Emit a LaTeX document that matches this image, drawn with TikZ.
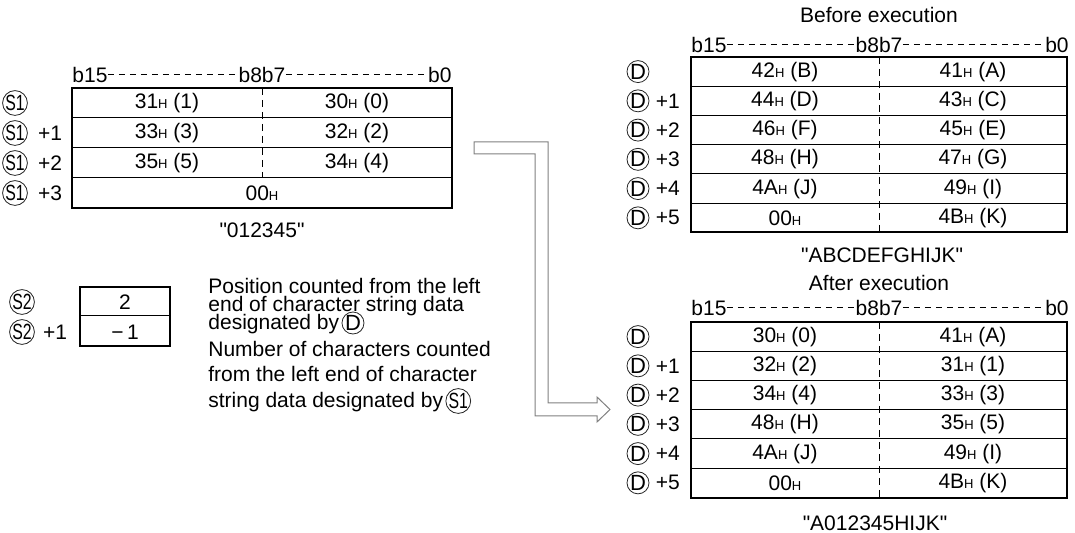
\documentclass[tikz,border=0pt]{standalone}
\usepackage{fontspec}
\setmainfont{Liberation Sans}[Ligatures=TeXOff]
\usetikzlibrary{positioning, calc}

\newcommand{\hexH}[1]{#1{\fontsize{6.5}{7}\selectfont H}}
\newcommand{\sone}{\scalebox{0.72}[1]{S1}}
\newcommand{\stwo}{\scalebox{0.72}[1]{S2}}

\begin{document}
\begin{tikzpicture}[x=0.5pt, y=-0.5pt,
  txt/.style={inner sep=0pt, font=\fontsize{10.5}{12}\selectfont},
  circ/.style={circle, draw=black!85, line width=0.4pt, inner sep=0pt, minimum size=11pt, font=\fontsize{11}{11}\selectfont},
  frame/.style={line width=1pt},
  rowline/.style={line width=0.5pt},
  middash/.style={line width=0.5pt, dash pattern=on 3.5pt off 2.5pt},
  bitdash/.style={line width=0.5pt, dash pattern=on 3pt off 2.5pt},
  hollow/.style={draw=black!50, line width=0.5pt}
]
  \useasboundingbox (0,0) rectangle (1075,533);

  % source string S1
  \node[txt, anchor=west] (lb15) at (72,75) {b15};
  \node[txt] (lb8) at (262,75) {b8b7};
  \node[txt, anchor=east] (lb0) at (452,75) {b0};
  \draw[bitdash] (lb15) -- (lb8);
  \draw[bitdash] (lb8) -- (lb0);
  \draw[frame] (72,88) rectangle (452,208);
  \foreach \y in {118,148,178} \draw[rowline] (72,\y) -- (452,\y);
  \draw[middash] (262,88) -- (262,178);
  \foreach \a/\b/\c/\d [count=\i from 0] in {31/1/30/0, 33/3/32/2, 35/5/34/4} {
    \node[txt] (sl\i) at (167,103+30*\i) {\hexH{\a} (\b)};
    \node[txt] (sr\i) at (357,103+30*\i) {\hexH{\c} (\d)};
  }
  \node[txt] (sl3) at (262,193) {\hexH{00}};
  \node[txt] (sstr) at (262,230) {"012345"};
  \node[circ] (s1l0) at (15,103) {\sone};
  \foreach \i in {1,2,3} {
    \node[circ] (s1l\i) at (15,103+30*\i) {\sone};
    \node[txt, right=5pt of s1l\i] (s1p\i) {+\i};
  }

  % S2
  \draw[frame] (80,287) rectangle (170,346);
  \draw[rowline] (80,316) -- (170,316);
  \node[txt] (n2) at (125,302) {2};
  \node[txt] (n1) at (125,332) {−\,1};
  \node[circ] (s2l0) at (22,302) {\stwo};
  \node[circ] (s2l1) at (22,332) {\stwo};
  \node[txt, right=4pt of s2l1] (s2p1) {+1};

  \node[txt, anchor=base west] (pos1) at (208,294) {Position counted from the left};
  \node[txt, anchor=base west] (pos2) at (208,312) {end of character string data};
  \node[txt, anchor=base west] (pos3) at (208,330) {designated by};
  \node[circ, anchor=west] (posd) at ($(pos3.base east)+(2,-7)$) {D};
  \node[txt, anchor=base west] (num1) at (208,357) {Number of characters counted};
  \node[txt, anchor=base west] (num2) at (208,382) {from the left end of character};
  \node[txt, anchor=base west] (num3) at (208,408) {string data designated by};
  \node[circ, anchor=west] (nums) at ($(num3.base east)+(2,-7)$) {\sone};

  % D before execution
  \node[txt] (before) at (879,15) {Before execution};
  \node[txt, anchor=west] (db15) at (691,45) {b15};
  \node[txt] (db8) at (879,45) {b8b7};
  \node[txt, anchor=east] (db0) at (1069,45) {b0};
  \draw[bitdash] (db15) -- (db8);
  \draw[bitdash] (db8) -- (db0);
  \draw[frame] (691,57) rectangle (1067,232.5);
  \foreach \k in {1,...,5} \draw[rowline] (691,57+29.25*\k) -- (1067,57+29.25*\k);
  \draw[middash] (879,57) -- (879,232.5);
  \foreach \lc/\rc [count=\i from 0] in {{\hexH{42} (B)}/{\hexH{41} (A)}, {\hexH{44} (D)}/{\hexH{43} (C)},
      {\hexH{46} (F)}/{\hexH{45} (E)}, {\hexH{48} (H)}/{\hexH{47} (G)}, {\hexH{4A} (J)}/{\hexH{49} (I)},
      {\hexH{00}}/{\hexH{4B} (K)}} {
    \node[txt] (bl\i) at (785,71.6+29.25*\i) {\lc};
    \node[txt] (br\i) at (973,71.6+29.25*\i) {\rc};
  }
  \node[circ] (dbl0) at (638,71.6) {D};
  \foreach \i in {1,...,5} {
    \node[circ] (dbl\i) at (638,71.6+29.25*\i) {D};
    \node[txt, right=3pt of dbl\i] (dbp\i) {+\i};
  }
  \node[txt] (bstr) at (882,255) {"ABCDEFGHIJK"};

  % D after execution
  \node[txt] (after) at (879,283) {After execution};
  \node[txt, anchor=west] (ab15) at (691,308) {b15};
  \node[txt] (ab8) at (879,308) {b8b7};
  \node[txt, anchor=east] (ab0) at (1069,308) {b0};
  \draw[bitdash] (ab15) -- (ab8);
  \draw[bitdash] (ab8) -- (ab0);
  \draw[frame] (691,322) rectangle (1067,497.5);
  \foreach \k in {1,...,5} \draw[rowline] (691,322+29.25*\k) -- (1067,322+29.25*\k);
  \draw[middash] (879,322) -- (879,497.5);
  \foreach \lc/\rc [count=\i from 0] in {{\hexH{30} (0)}/{\hexH{41} (A)}, {\hexH{32} (2)}/{\hexH{31} (1)},
      {\hexH{34} (4)}/{\hexH{33} (3)}, {\hexH{48} (H)}/{\hexH{35} (5)}, {\hexH{4A} (J)}/{\hexH{49} (I)},
      {\hexH{00}}/{\hexH{4B} (K)}} {
    \node[txt] (al\i) at (785,336.6+29.25*\i) {\lc};
    \node[txt] (ar\i) at (973,336.6+29.25*\i) {\rc};
  }
  \node[circ] (dal0) at (638,336.6) {D};
  \foreach \i in {1,...,5} {
    \node[circ] (dal\i) at (638,336.6+29.25*\i) {D};
    \node[txt, right=3pt of dal\i] (dap\i) {+\i};
  }
  \node[txt] (astr) at (875,523) {"A012345HIJK"};

  % hollow arrow
  \coordinate (arrowfrom) at (474,148);
  \coordinate (arrowto) at (610,409.5);
  \draw[hollow] ($(arrowfrom)+(0,-6)$) -- (548,142) -- (548,403) -- (597,403) -- (597,397) -- (arrowto)
    -- (597,422) -- (597,416) -- (535,416) -- (535,154) -- ($(arrowfrom)+(0,6)$) -- cycle;
\end{tikzpicture}
\end{document}
